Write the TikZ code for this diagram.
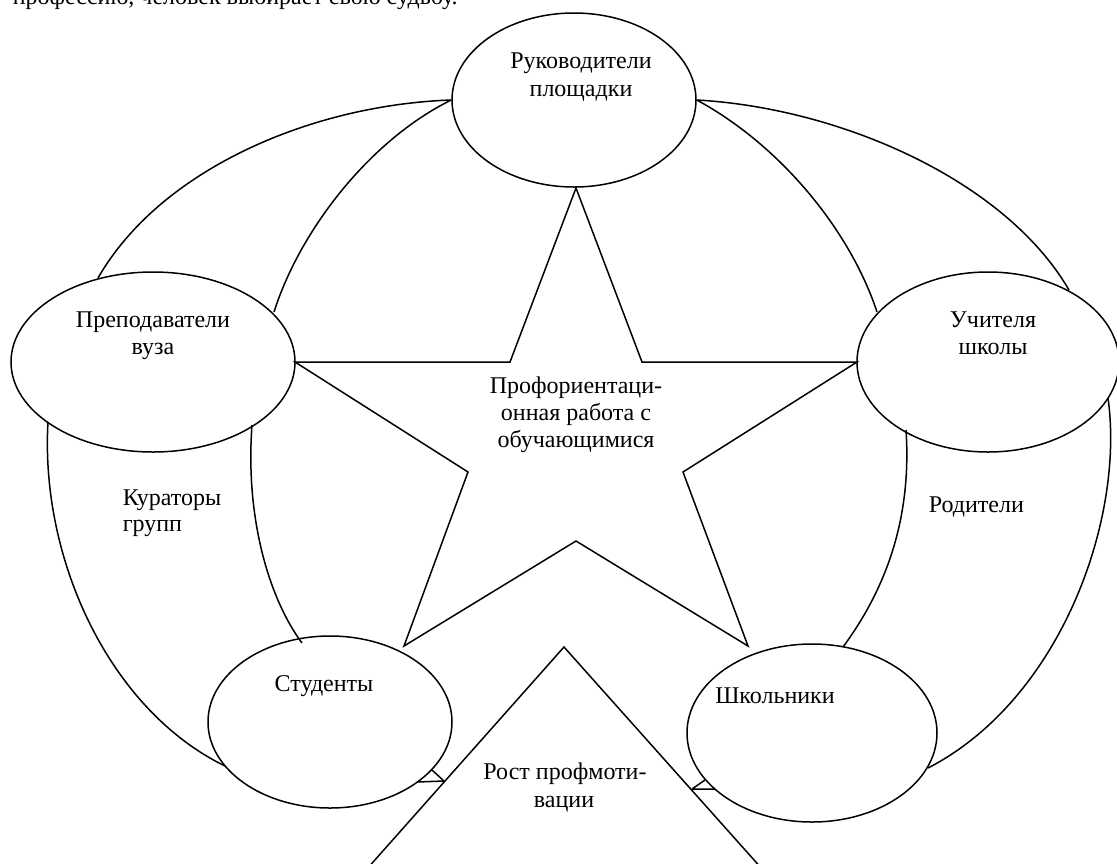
\documentclass[tikz,border=0pt]{standalone}
\usepackage{fontspec}
\setmainfont{Liberation Serif}
\usetikzlibrary{shapes.geometric}
\begin{document}
\begin{tikzpicture}[x=1pt,y=-1pt,
  line width=1.5pt, line join=miter,
  oval/.style={draw, ellipse, inner sep=0pt},
  lbl/.style={inner sep=0pt, anchor=base, font=\fontsize{24}{28}\selectfont},
  lbll/.style={lbl, anchor=base west}]
\useasboundingbox (0,0) rectangle (1117,863);
\clip (0,0) rectangle (1117,863);

% running text line above the scheme
\node[lbll] (prev) at (12,4) {профессию, человек выбирает свою судьбу.};

% participants
\node[oval, minimum width=244pt, minimum height=174pt] (ruk) at (574,100) {};
\node[oval, minimum width=284pt, minimum height=180pt] (prep) at (153,362) {};
\node[oval, minimum width=262pt, minimum height=180pt] (uch) at (988,362) {};
\node[oval, minimum width=244pt, minimum height=172pt] (stud) at (330,722) {};
\node[oval, minimum width=250pt, minimum height=178pt] (shk) at (812,733) {};

\node[lbl] (ruk1) at (581,68) {Руководители};
\node[lbl] (ruk2) at (581,96) {площадки};
\node[lbl] (prep1) at (153,327) {Преподаватели};
\node[lbl] (prep2) at (153,354) {вуза};
\node[lbl] (uch1) at (993,327) {Учителя};
\node[lbl] (uch2) at (993,354) {школы};
\node[lbl] (stud1) at (324,691) {Студенты};
\node[lbl] (shk1) at (775,703) {Школьники};

% end points of the links on the ovals
\coordinate (pA) at (98,278);
\coordinate (pB) at (274,312);
\coordinate (uA) at (1069,290);
\coordinate (uB) at (877,312);
\coordinate (pC) at (48,422);
\coordinate (pD) at (252,425);
\coordinate (sC) at (225,766);
\coordinate (sD) at (302,643);
\coordinate (uC) at (1108,398);
\coordinate (uD) at (906,430);
\coordinate (kC) at (928,768);
\coordinate (kD) at (843,647);

% links between the participants
\draw (pA) .. controls (160,170) and (310,105) .. (ruk.west);
\draw (pB) .. controls (300,230) and (370,140) .. (ruk.west);
\draw (ruk.east) .. controls (840,108) and (1005,180) .. (uA);
\draw (ruk.east) .. controls (780,145) and (850,230) .. (uB);
\draw (pC) .. controls (40,560) and (110,710) .. (sC);
\draw (pD) .. controls (245,520) and (270,600) .. (sD);
\draw (uD) .. controls (912,520) and (885,590) .. (kD);
\draw (uC) .. controls (1125,520) and (1060,700) .. (kC);

\node[lbll] (kur1) at (122,505) {Кураторы};
\node[lbll] (kur2) at (122,531) {групп};
\node[lbll] (rod) at (928,512) {Родители};

% the star in the middle
\draw (576,188) -- (642,362) -- (857,362) -- (683,472) -- (748,646)
  -- (576,541) -- (404,646) -- (468,472) -- (295,362) -- (510,362) -- cycle;
\node[lbl] (st1) at (576,393) {Профориентаци-};
\node[lbl] (st2) at (576,420) {онная работа с};
\node[lbl] (st3) at (576,447) {обучающимися};

% the growth triangle below
\coordinate (apex) at (564,647);
\coordinate (tl) at (366,870);
\coordinate (tr) at (763,870);
\draw (tl) -- (apex) -- (tr);
\node[lbl] (ro1) at (565,779) {Рост профмоти-};
\node[lbl] (ro2) at (564,807) {вации};

% short ties from the pupils' ovals to the triangle
\coordinate (sl1) at (432,770);
\coordinate (sl2) at (417,782);
\coordinate (sl0) at (444,781);
\draw (sl1) -- (sl0) (sl2) -- (sl0);
\coordinate (kr1) at (705,780);
\coordinate (kr2) at (715,789);
\coordinate (kr0) at (692,789);
\draw (kr1) -- (kr0) (kr2) -- (kr0);
\end{tikzpicture}
\end{document}
